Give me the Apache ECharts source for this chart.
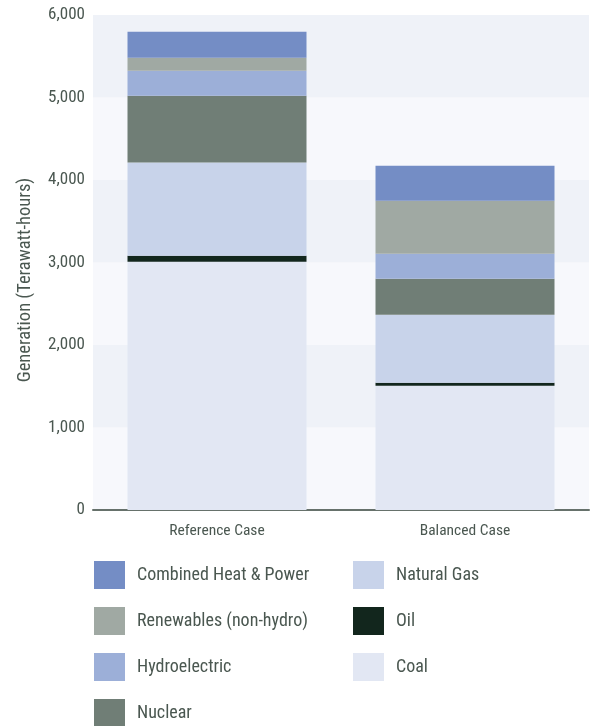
<!DOCTYPE html>
<html>
<head>
<meta charset="utf-8">
<script src="https://cdn.jsdelivr.net/npm/echarts@6/dist/echarts.min.js"></script>
<style>
  html, body { margin: 0; padding: 0; background: #ffffff; }
  #chart { width: 592px; height: 726px; }
</style>
</head>
<body>
<div id="chart"></div>
<script>
// Electricity generation by source, terawatt-hours
const cases = ['Reference Case', 'Balanced Case'];
const coal = [3008, 1505];
const oil = [73, 37];
const naturalGas = [1131, 824];
const nuclear = [809, 436];
const hydroelectric = [303, 303];
const renewables = [157, 643];
const combinedHeatPower = [315, 424];
const yTicks = [0, 1000, 2000, 3000, 4000, 5000, 6000];

const FONT = "'Roboto Condensed', 'DejaVu Sans Condensed', sans-serif";
const TEXT = '#4a5750';

// Stacked from the bottom up
const stack = [
  { name: 'Coal', data: coal, color: '#e2e7f3' },
  { name: 'Oil', data: oil, color: '#12261d' },
  { name: 'Natural Gas', data: naturalGas, color: '#c8d3ea' },
  { name: 'Nuclear', data: nuclear, color: '#707e76' },
  { name: 'Hydroelectric', data: hydroelectric, color: '#9cafd8' },
  { name: 'Renewables (non-hydro)', data: renewables, color: '#a0a9a3' },
  { name: 'Combined Heat & Power', data: combinedHeatPower, color: '#748dc5' }
];

function legendBlock(left, top, names) {
  return {
    orient: 'vertical',
    left: left,
    top: top,
    padding: 0,
    itemWidth: 31,
    itemHeight: 28,
    itemGap: 18,
    icon: 'rect',
    selectedMode: false,
    data: names,
    textStyle: { fontFamily: FONT, fontSize: 18, color: TEXT, padding: [0, 0, 0, 7] }
  };
}

const chart = echarts.init(document.getElementById('chart'), null, { renderer: 'canvas' });
chart.setOption({
  animation: false,
  backgroundColor: '#ffffff',
  grid: { left: 93, right: 3, top: 15, bottom: 216 },
  legend: [
    legendBlock(94, 561, ['Combined Heat & Power', 'Renewables (non-hydro)', 'Hydroelectric']),
    legendBlock(94, 699, ['Nuclear']),
    legendBlock(353, 561, ['Natural Gas', 'Oil', 'Coal'])
  ],
  xAxis: {
    type: 'category',
    data: cases,
    axisLine: { show: true, lineStyle: { color: '#66716b', width: 2 } },
    axisTick: { show: false },
    axisLabel: { fontFamily: FONT, fontSize: 15.5, color: TEXT, margin: 13 }
  },
  yAxis: {
    type: 'value',
    min: yTicks[0],
    max: yTicks[yTicks.length - 1],
    interval: 1000,
    name: 'Generation (Terawatt-hours)',
    nameLocation: 'middle',
    nameGap: 58,
    nameTextStyle: { fontFamily: FONT, fontSize: 18.5, color: TEXT, padding: [0, 35, 0, 0] },
    axisLine: { show: false },
    axisTick: { show: false },
    splitLine: { show: false },
    splitArea: { show: true, areaStyle: { color: ['#f7f8fc', '#eff2f8'] } },
    axisLabel: {
      fontFamily: FONT, fontSize: 17, color: TEXT, margin: 8,
      formatter: v => v.toLocaleString('en-US')
    }
  },
  series: stack.map(s => ({
    name: s.name,
    type: 'bar',
    stack: 'total',
    data: s.data,
    barWidth: 179,
    itemStyle: { color: s.color },
    emphasis: { disabled: true }
  }))
});
</script>
</body>
</html>
